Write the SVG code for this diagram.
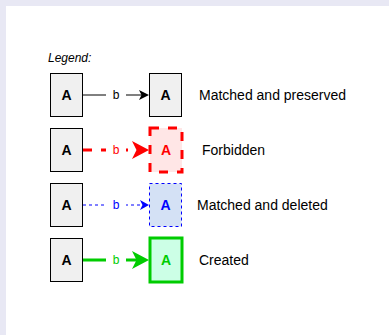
<svg xmlns="http://www.w3.org/2000/svg" width="389" height="335" viewBox="0 0 389 335">
<style>
.bg{fill:#e8e8f4}
.panel{fill:#ffffff}
.src{fill:#f0f0f0;stroke:#000;stroke-width:1}
.lbl{font-family:"Liberation Sans",Arial,sans-serif;font-size:12px;text-anchor:middle}
.nl{font-family:"Liberation Sans",Arial,sans-serif;font-size:14px;font-weight:bold;text-anchor:middle}
.desc{font-family:"Liberation Sans",Arial,sans-serif;font-size:14px;fill:#000}
</style>
<rect class="bg" x="0" y="0" width="389" height="335"/>
<rect class="panel" x="6" y="6" width="383" height="329"/>
<text x="48" y="62" font-family="'Liberation Sans',Arial,sans-serif" font-size="12px" font-style="italic">Legend:</text>
<g id="connectors">
<line x1="83" y1="95" x2="143" y2="95" stroke="#000" stroke-width="1"/>
<path d="M149,95 L139,90 L141.5,95 L139,100 Z" fill="#000"/>
<rect x="106" y="87" width="20" height="16" fill="#fff"/>
<text class="lbl" x="116" y="99" fill="#000">b</text>
<line x1="83" y1="150" x2="137" y2="150" stroke="#ff0000" stroke-width="3" stroke-dasharray="9 9"/>
<path d="M149,150 L132,141 L136.5,150 L132,159 Z" fill="#ff0000"/>
<rect x="106" y="142" width="20" height="16" fill="#fff"/>
<text class="lbl" x="116" y="154" fill="#ff0000">b</text>
<line x1="83" y1="205" x2="143" y2="205" stroke="#0000ff" stroke-width="1" stroke-dasharray="3 3"/>
<path d="M149,205 L140,200 L142.5,205 L140,210 Z" fill="#0000ff"/>
<rect x="106" y="197" width="20" height="16" fill="#fff"/>
<text class="lbl" x="116" y="209" fill="#0000ff">b</text>
<line x1="83" y1="260" x2="137" y2="260" stroke="#00cc00" stroke-width="3"/>
<path d="M149,260 L132,251 L136.5,260 L132,269 Z" fill="#00cc00"/>
<rect x="106" y="252" width="20" height="16" fill="#fff"/>
<text class="lbl" x="116" y="264" fill="#00cc00">b</text>
</g>
<g id="n1a"><rect class="src" x="50.5" y="73.5" width="32" height="43"/><text class="nl" x="66.5" y="100">A</text></g>
<g id="n1b"><rect class="src" x="149.5" y="73.5" width="32" height="43"/><text class="nl" x="165.5" y="100">A</text></g>
<g id="n2a"><rect class="src" x="50.5" y="128.5" width="32" height="43"/><text class="nl" x="66.5" y="155">A</text></g>
<g id="n2b"><rect x="150" y="128" width="32" height="44" fill="#ffe6e6" stroke="#ff0000" stroke-width="3" stroke-dasharray="9 9"/><text class="nl" x="166" y="155" fill="#ff0000">A</text></g>
<g id="n3a"><rect class="src" x="50.5" y="183.5" width="32" height="43"/><text class="nl" x="66.5" y="210">A</text></g>
<g id="n3b"><rect x="149.5" y="183.5" width="32" height="43" fill="#d4e1f5" stroke="#0000ff" stroke-width="1" stroke-dasharray="3 3"/><text class="nl" x="165.5" y="210" fill="#0000ff">A</text></g>
<g id="n4a"><rect class="src" x="50.5" y="238.5" width="32" height="43"/><text class="nl" x="66.5" y="265">A</text></g>
<g id="n4b"><rect x="150" y="238" width="32" height="44" fill="#ccffe6" stroke="#00cc00" stroke-width="3"/><text class="nl" x="166" y="265" fill="#00cc00">A</text></g>
<text class="desc" x="199" y="100">Matched and preserved</text>
<text class="desc" x="202" y="155">Forbidden</text>
<text class="desc" x="197" y="210">Matched and deleted</text>
<text class="desc" x="199" y="265">Created</text>
</svg>
